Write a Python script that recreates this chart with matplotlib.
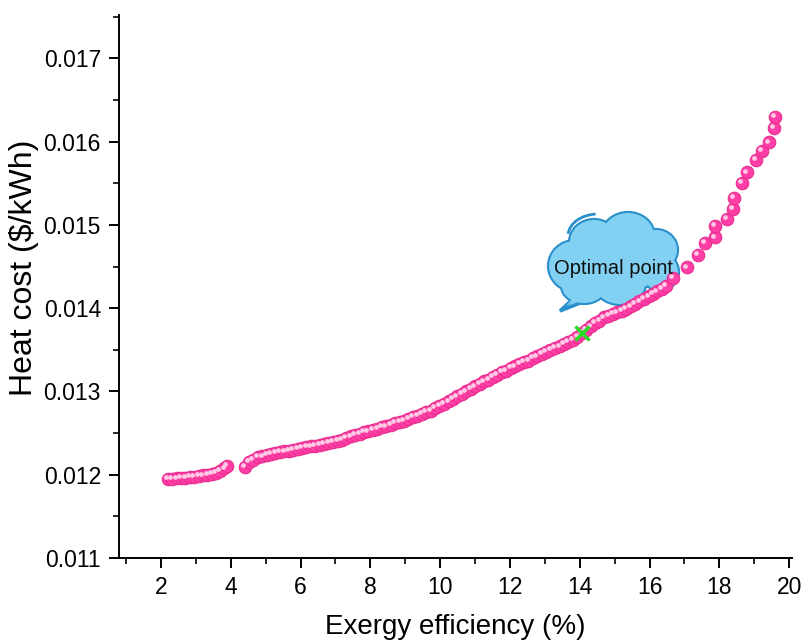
import matplotlib
matplotlib.use("Agg")
import matplotlib.pyplot as plt
from matplotlib.patches import Ellipse, Polygon, Arc
from matplotlib.ticker import MultipleLocator
from matplotlib.transforms import ScaledTranslation

plt.rcParams['font.family'] = ['Liberation Sans', 'DejaVu Sans']

# ---------------------------------------------------------------- data
# first run (low efficiency end)
eff_a = [2.20, 2.32, 2.45, 2.58, 2.70, 2.82, 2.95, 3.08, 3.20, 3.33,
         3.46, 3.58, 3.70, 3.82, 3.88]
cost_a = [0.011945, 0.011950, 0.011955, 0.011960, 0.011965, 0.011970,
          0.011978, 0.011985, 0.011992, 0.012000, 0.012012, 0.012025,
          0.012045, 0.012075, 0.012110]

# main run
eff_b = [4.40, 4.52, 4.64, 4.78, 4.91, 5.03, 5.16, 5.28, 5.41, 5.54,
         5.66, 5.79, 5.92, 6.04, 6.17, 6.30, 6.42, 6.55, 6.68, 6.80,
         6.93, 7.06, 7.18, 7.31, 7.44, 7.56, 7.69, 7.82, 7.94, 8.07,
         8.20, 8.33, 8.45, 8.58, 8.71, 8.84, 8.96, 9.09, 9.22, 9.35,
         9.47, 9.60, 9.73, 9.85, 9.98, 10.11, 10.24, 10.36, 10.49, 10.62,
         10.74, 10.87, 11.00, 11.13, 11.25, 11.38, 11.51, 11.63, 11.76, 11.89,
         12.02, 12.14, 12.27, 12.40, 12.53, 12.65, 12.78, 12.91, 13.04, 13.16,
         13.29, 13.42, 13.54, 13.67, 13.80, 13.93, 14.05, 14.18, 14.31, 14.44,
         14.56, 14.69, 14.82, 14.95, 15.07, 15.20, 15.33, 15.46, 15.58, 15.71,
         15.84, 15.97, 16.09, 16.22, 16.35, 16.47, 16.67, 17.07, 17.39, 17.59,
         17.87, 17.87, 18.22, 18.39, 18.42, 18.65, 18.79, 19.05, 19.22, 19.42,
         19.56, 19.60]
cost_b = [0.01209, 0.01215, 0.01218, 0.01221, 0.01222, 0.01224, 0.01225, 0.01226, 0.01227, 0.01228,
          0.01229, 0.01230, 0.01231, 0.01232, 0.01233, 0.01234, 0.01235, 0.01236, 0.01237, 0.01238,
          0.01239, 0.01241, 0.01242, 0.01244, 0.01246, 0.01248, 0.01249, 0.01251, 0.01252, 0.01254,
          0.01255, 0.01257, 0.01258, 0.01260, 0.01262, 0.01263, 0.01265, 0.01267, 0.01269, 0.01271,
          0.01273, 0.01275, 0.01277, 0.01280, 0.01283, 0.01285, 0.01288, 0.01291, 0.01294, 0.01297,
          0.01300, 0.01303, 0.01306, 0.01309, 0.01312, 0.01314, 0.01317, 0.01320, 0.01323, 0.01325,
          0.01328, 0.01330, 0.01333, 0.01335, 0.01337, 0.01340, 0.01342, 0.01345, 0.01347, 0.01350,
          0.01352, 0.01354, 0.01357, 0.01359, 0.01362, 0.01365, 0.01370, 0.01374, 0.01378, 0.01382,
          0.01385, 0.01389, 0.01391, 0.01393, 0.01395, 0.01397, 0.01399, 0.01402, 0.01405, 0.01408,
          0.01411, 0.01414, 0.01417, 0.01420, 0.01423, 0.01427, 0.01436, 0.01449, 0.01464, 0.01478,
          0.01485, 0.01499, 0.01507, 0.01519, 0.01532, 0.01550, 0.01563, 0.01578, 0.01589, 0.01599,
          0.01616, 0.01630]

opt_eff = [14.05]
opt_cost = [0.01370]

xticks = [2, 4, 6, 8, 10, 12, 14, 16, 18, 20]
yticks = [0.011, 0.012, 0.013, 0.014, 0.015, 0.016, 0.017]

# ---------------------------------------------------------------- figure
W, H = 803, 642
fig = plt.figure(figsize=(W / 100, H / 100), dpi=100)
ax = fig.add_axes([119 / W, (H - 558) / H, (792 - 119) / W, (558 - 15) / H])

pink = '#ff3fa6'
shine = ax.transData + ScaledTranslation(-1.3 / 72, 1.3 / 72, fig.dpi_scale_trans)
for xs, ys in ((eff_a, cost_a), (eff_b, cost_b)):
    ax.plot(xs, ys, ls='none', marker='o', ms=9.0, mfc=pink,
            mec='#ea2d90', mew=0.8, zorder=3)
    # little shine on each ball
    ax.plot(xs, ys, ls='none', marker='o', ms=3.4, mfc='#ffcbe6',
            mec='none', zorder=4, transform=shine)

ax.plot(opt_eff, opt_cost, ls='none', marker='x', ms=10, mew=2.4,
        color='#22dd22', zorder=5)

# ---------------------------------------------------------------- cloud callout
def px(x, y):
    return (x / W, 1 - y / H)

lobes = [  # (cx, cy, w, h) in pixels
    (575, 266, 52, 50),
    (594, 242, 48, 44),
    (628, 236, 52, 46),
    (656, 250, 42, 40),
    (660, 272, 36, 36),
    (620, 284, 50, 40),
    (584, 286, 44, 34),
    (615, 264, 100, 56),
]
tail = [(578, 294), (598, 296), (560, 311)]
cloud_face = '#82d0f2'
cloud_edge = '#2a8fcb'

for cx, cy, w, h in lobes:
    ax.add_patch(Ellipse(px(cx, cy), w / W, h / H, transform=fig.transFigure,
                         facecolor=cloud_face, edgecolor=cloud_edge, lw=3.0,
                         clip_on=False, zorder=1))
ax.add_patch(Polygon([px(*p) for p in tail], closed=True, transform=fig.transFigure,
                     facecolor=cloud_face, edgecolor=cloud_edge, lw=2.5,
                     clip_on=False, zorder=1))
for cx, cy, w, h in lobes:
    ax.add_patch(Ellipse(px(cx, cy), w / W, h / H, transform=fig.transFigure,
                         facecolor=cloud_face, edgecolor='none',
                         clip_on=False, zorder=1.1))
ax.add_patch(Polygon([px(582, 288), px(596, 288), px(566, 306)], closed=True,
                     transform=fig.transFigure, facecolor=cloud_face,
                     edgecolor='none', clip_on=False, zorder=1.1))
ax.add_patch(Arc(px(598, 236), 60 / W, 44 / H, theta1=95, theta2=175,
                 transform=fig.transFigure, color=cloud_edge, lw=2.0,
                 clip_on=False, zorder=1.2))

fig.text(614 / W, 1 - 268 / H, 'Optimal point', fontsize=14.5,
         ha='center', va='center', color='#111111', zorder=6)

# ---------------------------------------------------------------- axes style
ax.set_xlim(0.8, 20.08)
ax.set_ylim(0.011, 0.01752)
ax.set_xticks(xticks)
ax.set_yticks(yticks)
ax.set_yticklabels([f'{v:.3f}' for v in yticks])
ax.xaxis.set_minor_locator(MultipleLocator(1))
ax.yaxis.set_minor_locator(MultipleLocator(0.0005))

for side in ('top', 'right'):
    ax.spines[side].set_visible(False)
for side in ('left', 'bottom'):
    ax.spines[side].set_linewidth(1.4)

ax.tick_params(which='major', direction='out', length=7, width=1.4,
               labelsize=16.5, pad=6)
ax.tick_params(which='minor', direction='out', length=4, width=1.2)

ax.set_xlabel('Exergy efficiency (%)', fontsize=20, labelpad=11)
ax.set_ylabel('Heat cost ($/kWh)', fontsize=23)
ax.yaxis.set_label_coords(-0.119, (558 - 268) / 543)

fig.savefig('out.png', dpi=100)
